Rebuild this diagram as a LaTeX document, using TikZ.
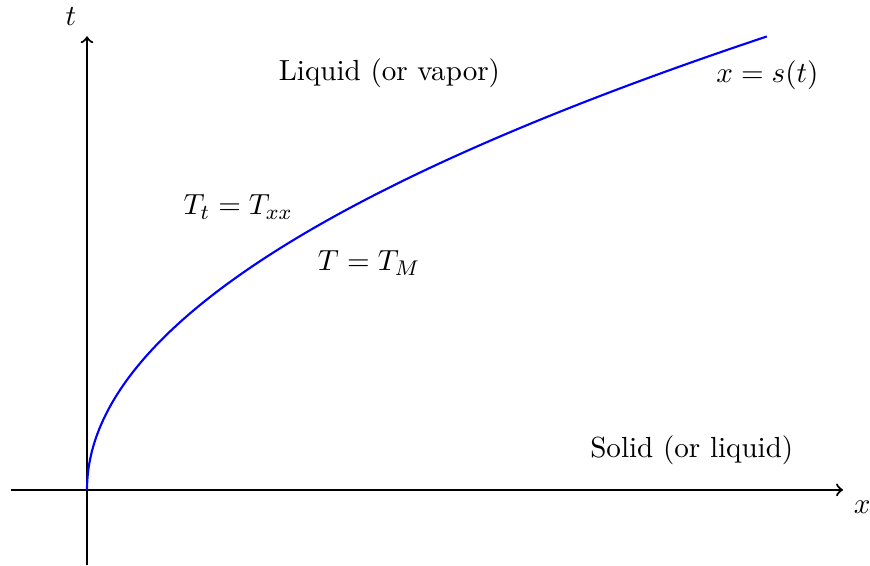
\documentclass[tikz,border=0pt,11pt]{standalone}
\usepackage{amsmath}
\usepackage{tikz}
\usetikzlibrary{positioning}

\begin{document}
\begin{tikzpicture}[thick]
    \useasboundingbox (-1.151,-0.995) rectangle (10.357,6.48);
    % Axes
    \coordinate (xmin) at (-1,0);
    \coordinate (xmax) at (10,0);
    \coordinate (tmin) at (0,-1);
    \coordinate (tmax) at (0,6);
    \draw[->] (xmin) -- (xmax) node[below right] (xlab) {$x$};
    \draw[->] (tmin) -- (tmax) node[above left] (tlab) {$t$};

    % Free boundary x = s(t)
    \draw[blue, domain=0:6, samples=200, variable=\t]
        plot ({\t*\t/4}, {\t});
    \node (front) at (9,5.48) {$x = s(t)$};

    % Phases
    \node (liquid) at (4,5.51) {Liquid (or vapor)};
    \node (solid) at (8,0.52) {Solid (or liquid)};

    % Equations
    \node (heat) at (2,3.74) {$T_t = T_{xx}$};
    \node (melt) at (3.73,3.0) {$T = T_M$};
\end{tikzpicture}
\end{document}
